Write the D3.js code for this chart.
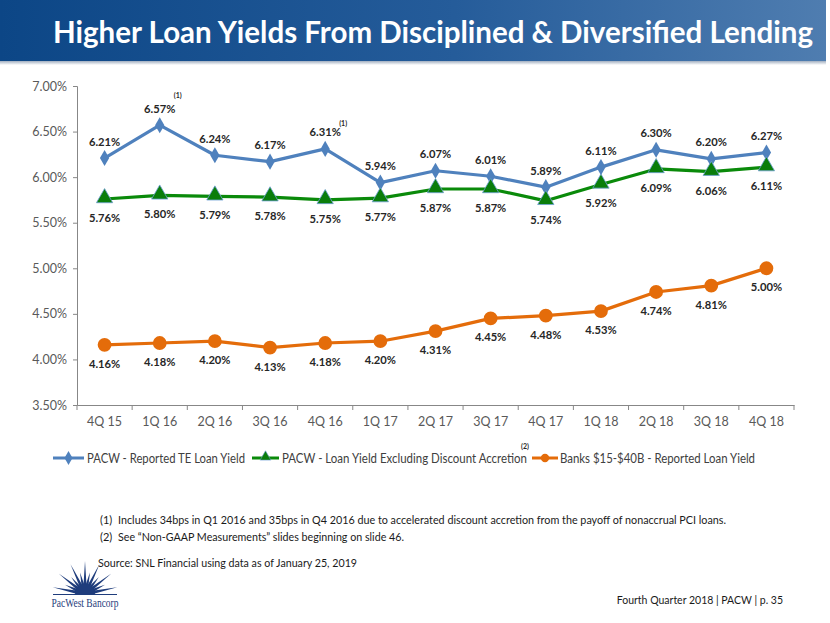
<!DOCTYPE html>
<html><head><meta charset="utf-8">
<script src="https://cdn.jsdelivr.net/npm/d3@7"></script>
<style>
html,body{margin:0;padding:0;background:#fff;}
svg{display:block;font-family:Lato,"Open Sans",sans-serif;}
</style></head>
<body>
<svg id="c" width="830" height="623"></svg>
<script>
const categories = ["4Q 15","1Q 16","2Q 16","3Q 16","4Q 16","1Q 17","2Q 17","3Q 17","4Q 17","1Q 18","2Q 18","3Q 18","4Q 18"];
const reportedTE = [6.21,6.57,6.24,6.17,6.31,5.94,6.07,6.01,5.89,6.11,6.30,6.20,6.27];
const exAccretion = [5.76,5.80,5.79,5.78,5.75,5.77,5.87,5.87,5.74,5.92,6.09,6.06,6.11];
const banks = [4.16,4.18,4.20,4.13,4.18,4.20,4.31,4.45,4.48,4.53,4.74,4.81,5.00];
const yTicks = [3.5,4.0,4.5,5.0,5.5,6.0,6.5,7.0];
const seriesNames = ["PACW - Reported TE Loan Yield","PACW - Loan Yield Excluding Discount Accretion","Banks $15-$40B - Reported Loan Yield"];
const title = "Higher Loan Yields From Disciplined & Diversified Lending";
const footnotes = ["Includes 34bps in Q1 2016 and 35bps in Q4 2016 due to accelerated discount accretion from the payoff of nonaccrual PCI loans.",
  "See \u201cNon-GAAP Measurements\u201d slides beginning on slide 46."];
const source = "Source: SNL Financial using data as of  January 25, 2019";
const pageNote = "Fourth Quarter 2018 | PACW | p. 35";

const svg = d3.select("#c");
const defs = svg.append("defs");
const grad = defs.append("linearGradient").attr("id","hg").attr("x1","0").attr("x2","1").attr("y1","0").attr("y2","0");
grad.append("stop").attr("offset","0").attr("stop-color","#0c4686");
grad.append("stop").attr("offset","0.55").attr("stop-color","#255c9a");
grad.append("stop").attr("offset","1").attr("stop-color","#4f7db0");
const sh = defs.append("linearGradient").attr("id","sh").attr("x1","0").attr("x2","0").attr("y1","0").attr("y2","1");
sh.append("stop").attr("offset","0").attr("stop-color","#8a9ab0");
sh.append("stop").attr("offset","1").attr("stop-color","#ffffff");

// header
svg.append("rect").attr("x",0).attr("y",60).attr("width",826).attr("height",5).attr("fill","url(#sh)");
svg.append("rect").attr("x",0).attr("y",0).attr("width",826).attr("height",61).attr("fill","url(#hg)");
svg.append("text").attr("x",53).attr("y",43).attr("fill","#fff").attr("font-size",29.5).attr("font-weight","bold")
  .attr("textLength",760).attr("lengthAdjust","spacingAndGlyphs").text(title);

// scales
const x = d3.scaleBand().domain(categories).range([77,794]).padding(0);
const cx = d => x(d) + x.bandwidth()/2;
const y = d3.scaleLinear().domain([3.5,7]).range([405,86]);

// axes
const yAxis = d3.axisLeft(y).tickValues(yTicks).tickFormat(d => d3.format(".2f")(d)+"%").tickSize(4).tickPadding(6);
const gy = svg.append("g").attr("transform","translate(77,0)").call(yAxis);
gy.select(".domain").attr("stroke","#878787");
gy.selectAll(".tick line").attr("stroke","#878787");
gy.selectAll(".tick text").attr("fill","#595959").attr("font-size",12.5).attr("font-family","Lato,sans-serif");

const xAxis = d3.axisBottom(x).tickSize(0).tickPadding(12);
const gx = svg.append("g").attr("transform","translate(0,405)").call(xAxis);
gx.select(".domain").attr("stroke","#878787");
gx.selectAll(".tick text").attr("fill","#595959").attr("font-size",12.5).attr("font-family","Lato,sans-serif");
gx.selectAll(".bt").data(categories.concat(["_end"])).enter().append("line")
  .attr("x1",(d,i)=>x.range()[0]+i*x.bandwidth()).attr("x2",(d,i)=>x.range()[0]+i*x.bandwidth())
  .attr("y1",0).attr("y2",5).attr("stroke","#878787");

const line = d3.line().x((d,i)=>cx(categories[i])).y(d=>y(d));
const blue="#4f81bd", green="#0a8a0a", orange="#e46c0a";

function drawSeries(vals,color){
  svg.append("path").datum(vals).attr("d",line).attr("fill","none").attr("stroke",color).attr("stroke-width",3.2).attr("stroke-linejoin","round");
}
drawSeries(reportedTE,blue);
drawSeries(exAccretion,green);
drawSeries(banks,orange);

const diamond = d3.symbol().type(d3.symbolDiamond).size(75);
const tri = d3.symbol().type(d3.symbolTriangle).size(115);
const circ = d3.symbol().type(d3.symbolCircle).size(150);

svg.selectAll(".mb").data(reportedTE).enter().append("path")
  .attr("transform",(d,i)=>`translate(${cx(categories[i])},${y(d)})`).attr("d",diamond).attr("fill",blue);
svg.selectAll(".mg").data(exAccretion).enter().append("path")
  .attr("transform",(d,i)=>`translate(${cx(categories[i])},${y(d)-1})`).attr("d",tri).attr("fill","#0a7d0a").attr("stroke","#6e9fd6").attr("stroke-width",0.8);
svg.selectAll(".mo").data(banks).enter().append("path")
  .attr("transform",(d,i)=>`translate(${cx(categories[i])},${y(d)})`).attr("d",circ).attr("fill",orange);

// labels
const fmt = d => d3.format(".2f")(d)+"%";
function labels(vals,dy){
  svg.append("g").selectAll("text").data(vals).enter().append("text")
    .attr("x",(d,i)=>cx(categories[i])).attr("y",d=>y(d)+dy)
    .attr("text-anchor","middle").attr("dominant-baseline","central")
    .attr("font-size",11.2).attr("font-weight","bold").attr("fill","#262626").text(fmt);
}
labels(reportedTE,-17);
labels(exAccretion,18.5);
labels(banks,18.5);

// superscript annotations
svg.append("text").attr("x",cx(categories[1])+14).attr("y",y(reportedTE[1])-27).attr("font-size",7).attr("font-weight","bold").attr("fill","#262626").text("(1)");
svg.append("text").attr("x",cx(categories[4])+14).attr("y",y(reportedTE[4])-23).attr("font-size",7).attr("font-weight","bold").attr("fill","#262626").text("(1)");

// legend
const legY = 458;
const leg = [
  {name:seriesNames[0],color:blue,x1:53,x2:84,tx:87,tw:158},
  {name:seriesNames[1],color:green,x1:252,x2:279,tx:282,tw:245},
  {name:seriesNames[2],color:orange,x1:532,x2:558,tx:560,tw:195}
];
leg.forEach((l,i)=>{
  svg.append("line").attr("x1",l.x1).attr("x2",l.x2).attr("y1",legY).attr("y2",legY).attr("stroke",l.color).attr("stroke-width",3);
  const sym = i===0 ? d3.symbol().type(d3.symbolDiamond).size(55)() : i===1 ? d3.symbol().type(d3.symbolTriangle).size(50)() : d3.symbol().type(d3.symbolCircle).size(55)();
  svg.append("path").attr("transform",`translate(${(l.x1+l.x2)/2},${legY-(i==1?1:0)})`).attr("d",sym)
    .attr("fill",i==1?"#0a7d0a":l.color).attr("stroke",i==1?"#6e9fd6":"none").attr("stroke-width",0.6);
  svg.append("text").attr("x",l.tx).attr("y",legY).attr("dominant-baseline","central").attr("font-size",12.5).attr("fill","#404040")
    .attr("textLength",l.tw).attr("lengthAdjust","spacingAndGlyphs").text(l.name);
});
svg.append("text").attr("x",521).attr("y",449).attr("font-size",7).attr("font-weight","bold").attr("fill","#262626").text("(2)");

// footnotes
const fnW = [608, 286];
footnotes.forEach((f,i)=>{
  svg.append("text").attr("x",100).attr("y",524+i*17).attr("font-size",11).attr("fill","#1a1a1a").text(`(${i+1})`);
  svg.append("text").attr("x",118).attr("y",524+i*17).attr("font-size",11).attr("fill","#1a1a1a")
    .attr("textLength",fnW[i]).attr("lengthAdjust","spacingAndGlyphs").text(f);
});
svg.append("text").attr("x",98).attr("y",567).attr("font-size",11).attr("fill","#1a1a1a")
  .attr("textLength",259).attr("lengthAdjust","spacingAndGlyphs").text(source);
svg.append("text").attr("x",783).attr("y",604).attr("text-anchor","end").attr("font-size",10.5).attr("fill","#1a1a1a").text(pageNote);

// logo
const lg = svg.append("g").attr("transform","translate(85,594)");
d3.range(-78,79,13).forEach((a,k)=>{
  const r = (k%2===0)?33:22;
  const rad=(a-90)*Math.PI/180, w=0.2;
  const p=`M${Math.cos(rad-w)*8},${Math.sin(rad-w)*8}L${Math.cos(rad)*r},${Math.sin(rad)*r}L${Math.cos(rad+w)*8},${Math.sin(rad+w)*8}Z`;
  lg.append("path").attr("d",p).attr("fill","#1f3d7c");
});
lg.append("path").attr("d","M-10,0 A10,10 0 0,1 10,0 Z").attr("fill","#1f3d7c");
lg.append("line").attr("x1",-32).attr("x2",32).attr("y1",0.5).attr("y2",0.5).attr("stroke","#1f3d7c").attr("stroke-width",1.2);
lg.append("text").attr("x",0).attr("y",13).attr("text-anchor","middle").attr("font-family","'Liberation Serif',serif").attr("font-size",12.5).attr("fill","#1f3d7c")
  .attr("textLength",67).attr("lengthAdjust","spacingAndGlyphs").text("PacWest Bancorp");
</script>
</body></html>
